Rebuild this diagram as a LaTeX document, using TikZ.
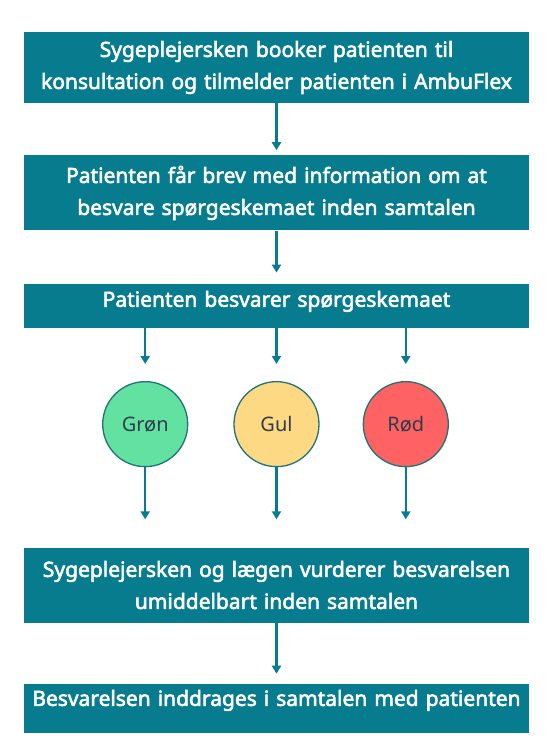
\documentclass[tikz,border=0pt]{standalone}
\usepackage{fontspec}
\setmainfont{Noto Sans}
\newfontfamily\semibold{Noto Sans}[FakeBold=2.6]
\usepackage{tikz}
\usetikzlibrary{arrows.meta,positioning}

\definecolor{teal}{HTML}{077C8E}
\definecolor{ring}{HTML}{1E7479}
\definecolor{gronfill}{HTML}{62E1A1}
\definecolor{gulfill}{HTML}{FDD984}
\definecolor{rodfill}{HTML}{FF6262}
\definecolor{ink}{HTML}{2E3D4C}

\begin{document}
\begin{tikzpicture}[
  node distance=52pt,
  box/.style={fill=teal, text=white, minimum width=505pt, text width=495pt,
    align=center, inner sep=4pt, font=\fontsize{21}{32}\selectfont\semibold},
  light/.style={circle, draw=ring, line width=1.3pt, minimum size=85pt,
    inner sep=0pt, text=ink, font=\fontsize{20}{22}\selectfont},
  arr/.style={-{Triangle[width=9pt,length=8pt]}, line width=2.4pt, draw=teal}
]
  \useasboundingbox (0,0) rectangle (548pt,-752pt);

  \node[box, minimum height=71pt] (book) at (276.5pt,-67.5pt)
    {Sygeplejersken booker patienten til\\konsultation og tilmelder patienten i AmbuFlex};
  \node[box, minimum height=75pt, below=52pt of book] (brev)
    {Patienten får brev med information om at\\besvare spørgeskemaet inden samtalen};
  \node[box, minimum height=44pt, text depth=14pt, below=53pt of brev] (svar)
    {Patienten besvarer spørgeskemaet};

  \node[light, fill=gulfill, below=53pt of svar] (gul) {Gul};
  \node[light, fill=gronfill, left=45pt of gul] (gron) {\raisebox{-6pt}{Grøn}};
  \node[light, fill=rodfill, right=43pt of gul] (rod) {Rød};

  \node[box, minimum height=75pt, below=80pt of gul] (vurder)
    {Sygeplejersken og lægen vurderer besvarelsen\\umiddelbart inden samtalen};
  \node[box, minimum height=49pt, text depth=21pt, below=61pt of vurder] (brug)
    {Besvarelsen inddrages i samtalen med patienten};

  \draw[arr, shorten >=5pt] (book) -- (brev);
  \draw[arr, shorten >=11pt] (brev) -- (svar);
  \foreach \c in {gron,gul,rod} {
    \draw[arr, shorten >=17pt] (svar.south -| \c) -- (\c.north);
    \draw[arr, shorten >=28pt] (\c.south) -- (vurder.north -| \c);
  }
  \draw[arr, shorten >=10pt] (vurder) -- (brug);
\end{tikzpicture}
\end{document}
